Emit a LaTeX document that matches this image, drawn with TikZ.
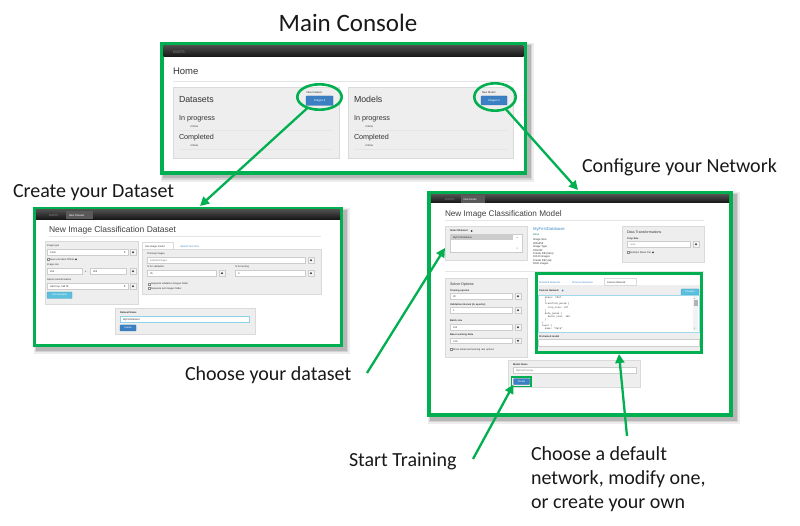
\documentclass[tikz,border=0pt]{standalone}
\usepackage{fontspec}
\setmainfont{Carlito}
\newfontfamily\uif{Liberation Sans}
\newfontfamily\symf{DejaVu Sans}
\newfontfamily\monof{Liberation Mono}
\usetikzlibrary{shapes.geometric,arrows.meta}
\definecolor{fgreen}{HTML}{00B050}
\definecolor{panelc}{HTML}{EEEEEE}
\definecolor{paneld}{HTML}{DADADA}
\definecolor{inpd}{HTML}{CCCCCC}
\definecolor{txtc}{HTML}{333333}
\definecolor{btnb}{HTML}{3C80C4}
\definecolor{btnl}{HTML}{5BC0DE}
\definecolor{linkc}{HTML}{428BCA}
\newcommand\fs[1]{\fontsize{#1}{#1}\selectfont}
\newcommand\myshadow[4]{%
  \fill[black,opacity=.07] (#1+1,#2+1) rectangle (#3+7,#4+7);
  \fill[black,opacity=.10] (#1+2,#2+2) rectangle (#3+5,#4+5);
  \fill[black,opacity=.14] (#1+3,#2+3) rectangle (#3+3.5,#4+3.5);}
\newcommand\icb[3]{% name x y
  \node[xicon] (#1) at (#2,#3) {};
  \fill[black!75] (#1.center) circle (1.1);}
\newcommand\cbx[4]{% name x y text (baseline y)
  \draw[black!45, line width=.25pt, fill=white] (#2,#3-1.9) rectangle (#2+1.9,#3);
  \node[xui=2.5] (#1) at (#2+3,#3) {#4};}
\tikzset{
  xframe/.style={draw=fgreen, line width=3.5pt, fill=white, inner sep=0, outer sep=0, anchor=north west},
  xring/.style={ellipse, draw=fgreen, line width=2.6pt, inner sep=0, outer sep=0},
  xarr/.style={draw=fgreen, line width=2.3pt, -{Triangle[length=9pt,width=9pt]}},
  xlab/.style={anchor=base west, inner sep=0, outer sep=0, font=\fs{20}, text=black!90},
  xui/.style={anchor=base west, inner sep=0, outer sep=0, text=txtc, font=\uif\fs{#1}},
  xui/.default=3,
  xpanel/.style={fill=panelc, draw=paneld, line width=.4pt},
  xpnode/.style={fill=panelc, draw=paneld, line width=.4pt, anchor=north west, inner sep=0, outer sep=0},
  xinp/.style={fill=white, draw=inpd, line width=.3pt},
  xbar/.style={top color=black!70, bottom color=black!92},
  xbtn/.style={fill=btnb, draw=btnb!80!black, line width=.3pt, rounded corners=.5pt, anchor=north west, inner sep=0, outer sep=0, text=white, font=\uif\fs{2.8}},
  xsep/.style={draw=black!10, line width=.4pt},
  xicon/.style={draw=inpd, fill=black!4, line width=.3pt, minimum width=6pt, minimum height=5.5pt, inner sep=0, outer sep=0, anchor=north west},
  xcode/.style={anchor=base west, inner sep=0, outer sep=0, text=txtc, font=\monof\fs{2.4}},
}
\begin{document}
\begin{tikzpicture}[x=1pt,y=-1pt]
\useasboundingbox (0,0) rectangle (800,526);
\fill[white] (0,0) rectangle (800,526);

% ---------- title ----------
\node[anchor=base, inner sep=0, font=\fs{25}, text=black!90] (title) at (348,32) {Main Console};

% ---------- main console ----------
\myshadow{160}{42}{527}{175}
\node[xframe, minimum width=363.5pt, minimum height=129.5pt] (mc) at (161.75,43.75) {};
\shade[xbar] (163.5,45.5) rectangle (523.5,57);
\node[xui=3.5, text=black!45] (dg1) at (173,53.5) {DIGITS};
\node[xui=9.5] (home) at (173,75) {Home};
\draw[xsep] (173,81) -- (513,81);
% datasets panel
\draw[xpanel] (173,87) rectangle (339,158);
\node[xui=8.8] (dsT) at (179,102.5) {Datasets};
\node[xui=2.7] (nds) at (306.5,93.5) {New Dataset};
\node[xbtn, minimum width=27pt, minimum height=9.5pt] (imgb1) at (306,96) {Images {\symf ▾}};
\node[xui=7.2] (ip1) at (179,121) {In progress};
\node[xui=2.7] (no1) at (190,127.5) {• None};
\draw[xsep] (179,130.5) -- (333,130.5);
\node[xui=7.2] (cp1) at (179,140) {Completed};
\node[xui=2.7] (no2) at (190,146.5) {• None};
\draw[xsep] (179,149.5) -- (333,149.5);
% models panel
\draw[xpanel] (348,87) rectangle (513,158);
\node[xui=8.8] (mdT) at (354,102.5) {Models};
\node[xui=2.7] (nmd) at (482,93.5) {New Model};
\node[xbtn, minimum width=26pt, minimum height=9pt] (imgb2) at (481,96) {Images {\symf ▾}};
\node[xui=7.2] (ip2) at (354,121) {In progress};
\node[xui=2.7] (no3) at (365,127.5) {• None};
\draw[xsep] (354,130.5) -- (507,130.5);
\node[xui=7.2] (cp2) at (354,140) {Completed};
\node[xui=2.7] (no4) at (365,146.5) {• None};
\draw[xsep] (354,149.5) -- (507,149.5);
% rings
\node[xring, minimum width=44.4pt, minimum height=25.4pt] (ring1) at (319.5,97) {};
\node[xring, minimum width=41.4pt, minimum height=27.4pt] (ring2) at (495,97) {};

% ---------- dataset screen ----------
\myshadow{33}{207}{343}{347}
\node[xframe, line width=3pt, minimum width=307pt, minimum height=137pt] (dsf) at (34.5,208.5) {};
\shade[xbar] (36,210) rectangle (340,219.5);
\node[xui=2.8, text=black!45] (dg2) at (49,216.8) {DIGITS};
\fill[black!65] (66,211) rectangle (93,219.5);
\node[xui=2.7, text=white] (tabds) at (69,216.6) {New Dataset};
\node[xui=8.5, text=black!75] (dsTitle) at (49,233) {New Image Classification Dataset};
\draw[xsep] (49,236.5) -- (321,236.5);
% left panel
\draw[xpanel] (45,241) rectangle (138,304);
\node[xui=2.5] (it) at (47,247) {Image type};
\draw[xinp] (47,249.5) rectangle (128,255);
\node[xui=2.5] (itv) at (50,253.4) {Color};
\node[xui=2.8, font=\symf\fs{2.8}] (itc) at (124,253.5) {▾};
\icb{ic1}{130}{249.5}
\cbx{sej}{47}{260.5}{Save encoded JPEGs}
\fill[black!75] (76,259.4) circle (1);
\node[xui=2.5] (isz) at (47,266) {Image size};
\draw[xinp] (47,268.5) rectangle (82,274);
\node[xui=2.5] (isa) at (50,272.4) {256};
\node[xui=2.5] (isx) at (85,272.4) {x};
\draw[xinp] (90,268.5) rectangle (126,274);
\node[xui=2.5] (isb) at (93,272.4) {256};
\icb{ic2}{130}{268.5}
\node[xui=2.5] (rst) at (47,281) {Resize transformation};
\draw[xinp] (47,283.5) rectangle (128,289);
\node[xui=2.5] (rsv) at (50,287.4) {Half crop, half fill};
\node[xui=2.8, font=\symf\fs{2.8}] (rsc) at (124,287.5) {▾};
\icb{ic3}{130}{283.5}
\node[xbtn, fill=btnl, draw=btnl!80!black, minimum width=25pt, minimum height=6.5pt, font=\uif\fs{2.5}] (useex) at (47,292) {Use example};
% right tabs / panel
\draw[fill=white, draw=paneld, line width=.4pt] (142,242) rectangle (173,249.5);
\node[xui=2.5] (tuf) at (145,247.3) {Use Image Folder};
\node[xui=2.5, text=linkc] (tut) at (180,247.3) {Upload Text Files};
\draw[xpanel] (142,249.5) rectangle (321,294);
\node[xui=2.5] (tri) at (147,255) {Training Images};
\draw[xinp] (147,257.5) rectangle (305,263);
\node[xui=2.5, text=black!55] (triv) at (150,261.4) {/path/to/images};
\icb{ic4}{308}{257.5}
\node[xui=2.5] (pv) at (147,268) {\% for validation};
\draw[xinp] (147,270.5) rectangle (216,276);
\node[xui=2.5] (pvv) at (150,274.4) {25};
\icb{ic5}{219}{270.5}
\node[xui=2.5] (pt) at (235,268) {\% for testing};
\draw[xinp] (235,270.5) rectangle (305,276);
\node[xui=2.5] (ptv) at (238,274.4) {0};
\icb{ic6}{308}{270.5}
\cbx{svf}{148}{285}{Separate validation images folder}
\cbx{stf}{148}{289.5}{Separate test images folder}
% dataset name
\draw[xpanel] (115,308) rectangle (255,334);
\node[xui=2.5, font=\uif\bfseries\fs{2.5}] (dsn) at (120,313.5) {Dataset Name};
\draw[xinp, draw=btnl!70] (120,316) rectangle (249,322);
\node[xui=2.5] (dsnv) at (123,320.4) {MyFirstDataset};
\node[xbtn, minimum width=16pt, minimum height=6pt, font=\uif\fs{2.5}] (dscr) at (120,325) {Create};

% ---------- model screen ----------
\myshadow{427}{191}{733}{417}
\node[xframe, line width=4pt, minimum width=302pt, minimum height=222pt] (mdf) at (429,193) {};
\shade[xbar] (431,195) rectangle (729,203);
\node[xui=2.8, text=black!45] (dg3) at (445,200.6) {DIGITS};
\fill[black!65] (461,195.5) rectangle (485,203);
\node[xui=2.6, text=white] (tabmd) at (463.5,200.5) {New Model};
\node[xui=8.2, text=black!75] (mdTitle) at (445,217) {New Image Classification Model};
\draw[xsep] (445,220.5) -- (704,220.5);
% select dataset
\node[xpnode, minimum width=82pt, minimum height=34pt] (seldata) at (445,226) {};
\node[xui=2.6, font=\uif\bfseries\fs{2.6}] (sdl) at (450,232) {Select Dataset};
\fill[black!75] (471.5,231) circle (1);
\draw[xinp] (450,234.5) rectangle (522,252);
\fill[black!20] (451,235.5) rectangle (513,239.6);
\node[xui=2.5] (sdv) at (453,238.6) {MyFirstDatabase};
\node[xui=2.4, font=\symf\fs{2.4}, text=black!50] (sdu) at (516.5,239) {▴};
\node[xui=2.4, font=\symf\fs{2.4}, text=black!50] (sdd) at (516.5,250) {▾};
% info column
\node[xui=4.2, text=linkc] (mfd) at (533,231) {MyFirstDatabase};
\node[xui=2.6, text=fgreen!70!black] (dn) at (533,235.8) {Done};
\node[xui=2.7] (in1) at (533,240.7) {Image Size};
\node[xui=2.7] (in2) at (533,244.2) {256x256};
\node[xui=2.7] (in3) at (533,247.6) {Image Type};
\node[xui=2.7] (in4) at (533,251.1) {COLOR};
\node[xui=2.7] (in5) at (533,254.6) {Create DB (train)};
\node[xui=2.7] (in6) at (533,258.0) {15120 images};
\node[xui=2.7] (in7) at (533,261.5) {Create DB (val)};
\node[xui=2.7] (in8) at (533,265.0) {5040 images};
% data transformations
\draw[xpanel] (622,226) rectangle (704,262);
\node[xui=3.6] (dtt) at (627,233.5) {Data Transformations};
\node[xui=2.5, font=\uif\bfseries\fs{2.5}] (crs) at (627,239.5) {Crop Size};
\draw[xinp] (627,241.5) rectangle (690,247.5);
\node[xui=2.5, text=black!50] (crv) at (630,245.8) {none};
\icb{ic7}{693}{241.5}
\cbx{smf}{627}{253.5}{Subtract Mean File}
\fill[black!75] (653,252.4) circle (1);
\draw[xsep] (445,271) -- (704,271);
% solver options
\draw[xpanel] (445,278) rectangle (527,357);
\node[xui=3.6] (sot) at (450,285.5) {Solver Options};
\node[xui=2.5, font=\uif\bfseries\fs{2.5}] (tep) at (450,291.5) {Training epochs};
\draw[xinp] (450,293.5) rectangle (512,299);
\node[xui=2.5] (tepv) at (453,297.6) {30};
\icb{ic8}{515}{293.5}
\node[xui=2.5, font=\uif\bfseries\fs{2.5}] (vin) at (450,305.3) {Validation interval (in epochs)};
\draw[xinp] (450,307.5) rectangle (512,313);
\node[xui=2.5] (vinv) at (453,311.6) {1};
\icb{ic9}{515}{307.5}
\node[xui=2.5, font=\uif\bfseries\fs{2.5}] (bsz) at (450,322) {Batch size};
\draw[xinp] (450,324.5) rectangle (512,330);
\node[xui=2.5] (bszv) at (453,328.6) {100};
\icb{ic10}{515}{324.5}
\node[xui=2.5, font=\uif\bfseries\fs{2.5}] (blr) at (450,335.5) {Base Learning Rate};
\draw[xinp] (450,338) rectangle (512,343.5);
\node[xui=2.5] (blrv) at (453,342.1) {0.01};
\icb{ic11}{515}{338}
\cbx{sal}{450}{350}{Show advanced learning rate options}
% network box
\node[xframe, line width=3pt, minimum width=165pt, minimum height=79pt] (netbox) at (536.5,273.5) {};
\node[xui=2.5, text=linkc] (tsn) at (539,283.5) {Standard Networks};
\node[xui=2.5, text=linkc] (tpn) at (572,283.5) {Previous Networks};
\fill[panelc] (538,285.5) rectangle (700,351);
\draw[fill=white, draw=paneld, line width=.4pt] (604,278) rectangle (636,285.5);
\node[xui=2.5] (tcn) at (607,283.3) {Custom Network};
\node[xui=2.5, font=\uif\bfseries\fs{2.5}] (cnl) at (539,291.5) {Custom Network};
\fill[linkc] (562.5,290.5) circle (1);
\node[xbtn, fill=btnl, draw=btnl!80!black, minimum width=18pt, minimum height=6pt, font=\uif\fs{2.4}] (vis) at (681,289) {Visualize};
\draw[xinp, draw=btnl!60] (538,295.5) rectangle (699,332);
\node[xcode] (c1) at (542,298.8) {\ \ phase: TEST};
\node[xcode] (c2) at (542,301.9) {\ \ \}};
\node[xcode] (c3) at (542,305.0) {\ \ transform\_param \{};
\node[xcode] (c4) at (542,308.1) {\ \ \ \ crop\_size: 227};
\node[xcode] (c5) at (542,311.2) {\ \ \}};
\node[xcode] (c6) at (542,314.3) {\ \ data\_param \{};
\node[xcode] (c7) at (542,317.4) {\ \ \ \ batch\_size: 100};
\node[xcode] (c8) at (542,320.5) {\ \ \}};
\node[xcode] (c9) at (542,323.6) {\}};
\node[xcode] (c10) at (542,326.7) {layer \{};
\node[xcode] (c11) at (542,329.8) {\ \ name: "data"};
\fill[black!5] (693,296.5) rectangle (698,331);
\fill[black!30] (693.5,300.5) rectangle (697.5,306);
\node[xui=2.3, font=\symf\fs{2.3}, text=black!50] (scu) at (694,299.3) {▴};
\node[xui=2.3, font=\symf\fs{2.3}, text=black!50] (scd) at (694,330) {▾};
\node[xui=2.5, font=\uif\bfseries\fs{2.5}] (ptm) at (539,337.3) {Pretrained model};
\draw[xinp] (538,339.5) rectangle (699,346);
% model name
\draw[xpanel] (508,360) rectangle (640,387);
\node[xui=2.5, font=\uif\bfseries\fs{2.5}] (mnl) at (513,365.5) {Model Name};
\draw[xinp] (513,367.5) rectangle (636,373.5);
\node[xui=2.5, text=black!55] (mnv) at (516,371.7) {MyFirstTraining};
\node[xbtn, minimum width=16pt, minimum height=6pt, font=\uif\fs{2.5}] (createbtn) at (513.5,378.5) {Create};
\draw[fgreen, line width=1.5pt] (511.5,377) rectangle (531,386.5);

% ---------- labels ----------
\node[xlab] (lcd) at (13,197.5) {Create your Dataset};
\node[xlab] (lcn) at (582,173) {Configure your Network};
\node[xlab] (lcy) at (185,380) {Choose your dataset};
\node[xlab] (lst) at (349,466) {Start Training};
\node[xlab] (lch1) at (531,460) {Choose a default};
\node[xlab] (lch2) at (531,484) {network, modify one,};
\node[xlab] (lch3) at (531,508) {or create your own};

% ---------- connectors ----------
\coordinate (a1e) at (200,206);
\coordinate (a2e) at (578,190);
\coordinate (a3s) at (367,373);
\coordinate (a4s) at (473,459);
\coordinate (a5s) at (627,436);
\draw[xarr] (ring1) -- (a1e);
\draw[xarr] (ring2) -- (a2e);
\draw[xarr] (a3s) -- ([yshift=-5pt]seldata.west);
\draw[xarr] (a4s) -- (createbtn.south west);
\draw[xarr] (a5s) -- ([yshift=-1.5pt]netbox.south);
\end{tikzpicture}
\end{document}
